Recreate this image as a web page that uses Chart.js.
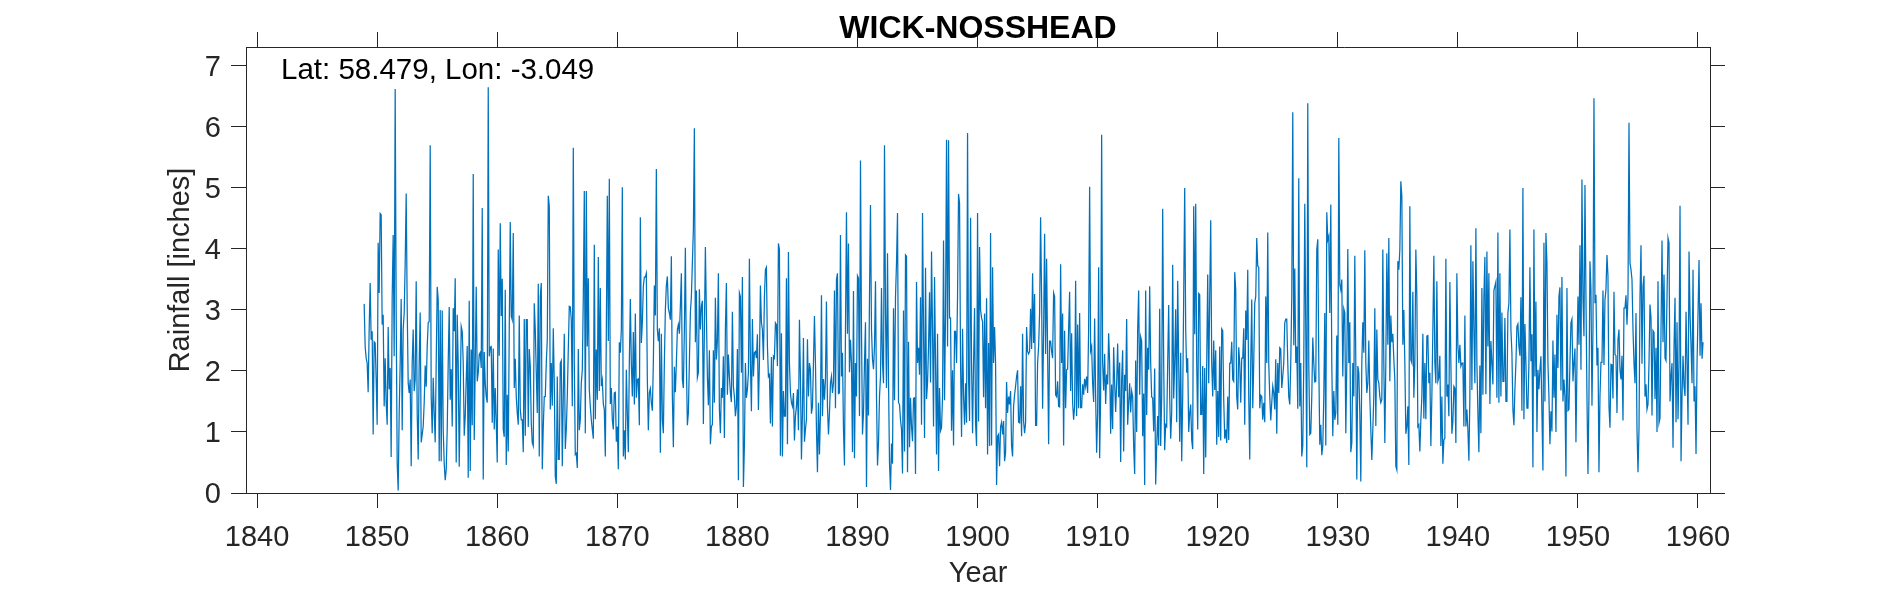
<!DOCTYPE html>
<html>
<head>
<meta charset="utf-8">
<title>WICK-NOSSHEAD</title>
<script src="https://cdn.jsdelivr.net/npm/chart.js@4/dist/chart.umd.min.js"></script>
<style>
html, body { margin: 0; padding: 0; background: #fff; }
#wrap { position: relative; width: 1890px; height: 591px; }
</style>
</head>
<body>
<div id="wrap"><canvas id="myChart"></canvas></div>
<script>
// monthly rainfall in inches
var rainPart1 = [3.10,2.40,2.21,2.13,1.65,2.68,3.44,2.51,2.65,0.96,2.48,2.46,1.86,1.12,4.10,3.28,4.58,4.56,2.76,2.92,1.42,2.21,1.48,1.12,2.72,1.70,2.05,0.59,3.20,4.23,2.24,6.62,3.00,0.49,0.04,1.31,2.13,3.18,1.03,2.68,2.95,3.77,4.91,3.05,1.80,1.64,1.86,0.44,2.13,2.68,1.67,1.86,3.47,1.31,0.55,2.13,2.96,0.83,0.96,1.09,1.48,2.09,1.74,2.40,2.79,2.81,5.70,1.58,0.98,1.89,1.31,0.83,2.13,3.38,3.17,0.52,3.00,0.52,2.99,1.04,0.49,0.21,0.38,1.04,2.13,3.05,1.53,2.03,1.09,3.03,2.65,3.52,0.50,2.92,2.13,0.43,1.58,2.73,2.65,2.13,0.94,1.26,1.86,2.41,0.25,3.15,0.36,2.35,1.11,5.23,0.87,2.08,3.38,1.83,1.97,2.27,2.30,2.05,4.67,0.22,2.31,1.80,1.58,1.48,6.65,2.24,2.39,2.40,1.15,2.37,1.04,1.72,1.15,0.50,3.99,2.25,4.42,2.90,3.51,1.04,0.92,3.33,0.46,1.61,0.68,2.68,4.44,2.90,2.84,4.26,1.72,2.20,1.58,1.31,1.12,2.91,1.37,1.20,1.20,0.67,2.85,0.94,2.84,2.84,1.08,2.36,2.08,1.15,0.82,0.77,3.11,2.68,1.97,1.31,3.43,0.60,3.22,3.44,0.39,1.09,1.58,1.58,2.13,2.51,4.87,4.70,1.37,2.13,1.43,2.70,1.80,0.27,0.15,1.91,0.55,0.55,2.13,2.17,0.44,1.58,2.61,0.72,1.04,1.58,2.35,3.06,3.05,2.84,1.42,5.66,2.13,0.63,0.65,0.41,2.36,1.03,1.20,1.80,2.02,3.22,4.95,0.98,4.95,2.40,3.52,1.70,1.42,1.20,1.04,0.89,4.07,1.21,2.35,1.53,3.87,1.67,3.36,1.75,1.85,1.46,1.37,0.60,2.60,4.87,2.49,5.15,1.46,1.72,1.20,1.04,1.64,1.65,0.84,1.09,0.39,2.47,2.30,2.68,5.01,0.60,1.03,0.55,2.02,1.31,0.67,2.13,3.18,2.13,1.58,2.64,1.45,2.94,1.56,1.86,1.87,1.11,4.52];
var rainPart2 = [2.46,2.79,3.39,3.54,3.54,3.60,1.86,1.03,1.64,1.71,1.48,1.35,2.13,3.40,2.91,5.31,2.68,2.49,2.70,0.66,2.61,1.20,0.98,2.13,3.00,3.40,3.55,3.03,2.95,2.84,3.88,1.58,0.75,2.07,1.65,2.13,2.68,2.76,2.61,3.06,3.60,1.86,1.72,2.68,4.02,2.13,1.11,1.31,2.13,2.95,3.22,3.77,4.32,5.98,2.47,3.32,1.89,1.97,3.34,2.68,3.06,3.15,1.13,2.68,4.03,2.95,1.91,1.44,2.34,0.80,1.09,1.12,2.34,1.48,3.20,2.19,2.49,3.60,1.37,0.98,1.72,1.56,2.24,0.90,2.68,3.44,1.61,2.27,1.91,1.64,1.49,2.97,1.75,1.58,1.26,1.42,2.36,0.21,3.28,3.22,1.97,3.54,0.10,0.77,2.13,1.56,1.70,1.97,3.84,2.13,1.34,2.85,1.91,2.30,2.32,2.21,2.60,1.36,2.13,3.40,2.79,2.68,2.18,3.22,3.66,3.70,2.40,1.91,1.94,1.14,2.23,1.09,2.24,2.21,2.79,2.76,2.08,4.09,3.99,0.61,2.62,0.60,1.67,1.26,1.26,3.52,0.80,3.95,2.13,1.64,1.48,1.42,1.64,0.86,1.26,1.42,1.70,1.03,2.84,1.91,0.55,1.31,2.54,0.84,1.04,1.20,2.52,1.58,2.13,2.02,1.30,1.42,2.13,2.90,2.13,1.04,0.34,1.48,0.63,1.31,3.24,1.26,1.87,1.53,1.86,3.14,1.42,0.96,1.31,1.80,1.91,1.64,1.80,3.32,1.39,3.50,3.60,1.63,1.64,4.23,1.91,2.30,1.04,0.45,2.68,4.60,2.61,4.09,1.98,2.51,2.13,0.67,3.31,0.57,2.13,1.58,3.56,3.52,1.26,5.45,2.68,0.96,1.31,2.13,2.80,0.10,2.20,1.27,3.22,4.72,2.68,2.19,2.03,2.40,3.47,1.58,0.45,0.82,1.58,1.90,3.36,2.13,1.80,5.70,2.95,1.72,3.93,1.86,0.49,0.05,0.81,0.48,3.03,1.52,3.22,3.77,4.59,1.48,1.45,1.20,1.04,0.32,2.99,0.68,3.90,3.88,0.34,2.48,0.75,1.56,1.09,0.85,1.55,1.56,0.31,3.46,2.13,2.38,1.94,3.21,1.12,4.59,2.68,0.90,3.69,1.54,1.80,2.40,3.29,1.81,3.96,2.68,1.09,3.54,2.13,0.63,2.61,0.36,1.72,1.02,1.07,1.58,4.14,1.52,2.95,5.79,2.40,5.78,2.87,2.87,1.02,2.01,0.78,2.65,2.65,2.13,3.22,4.90,4.75,2.13,0.92,2.69,1.58,1.12,1.80,1.15,5.90,1.88,1.18,4.51,2.13,0.98,2.13,3.03,1.15,0.77,4.59,1.17,4.03,3.00,2.87,2.81,1.57,2.94,1.39,3.19,0.63,2.46,0.77,4.26,0.78,3.70,2.13,2.72,2.13,0.13,0.93,0.96,0.44,1.09,1.16,0.96,1.18,0.52,0.66,1.82,1.31,1.58,1.45,1.67,0.77,0.60,1.42,1.61,1.75,1.91,2.01,1.16,1.15,1.75,0.93,2.61,1.18,0.98,1.15,2.72,2.32,2.28,2.32,3.02,2.36,3.60,2.46,3.26,1.11,1.11,2.13,2.40,2.95,4.52,3.22,1.38,2.68,4.25,2.28,3.84,2.30,0.80,2.49];
var rainPart3 = [2.49,2.32,2.21,3.28,3.22,1.61,1.58,1.83,1.42,1.41,3.75,2.13,2.94,0.78,2.66,1.39,2.02,2.03,2.68,3.30,1.67,2.62,1.48,1.20,1.42,3.48,1.26,2.76,1.39,2.95,1.40,1.40,1.78,1.61,1.87,1.75,1.91,1.64,2.68,5.02,2.33,2.40,1.80,1.49,2.86,1.58,0.66,1.31,3.70,0.57,1.58,5.87,2.13,1.68,2.28,1.46,1.94,1.78,2.62,2.13,0.97,1.78,1.05,2.39,1.80,1.33,1.80,2.45,1.57,2.14,0.51,1.86,2.34,0.68,1.94,1.67,2.85,1.12,1.48,1.80,1.32,1.67,1.58,0.77,0.31,2.17,1.00,2.68,3.32,1.61,2.56,2.49,0.93,1.63,0.13,3.32,1.28,2.38,2.02,3.39,2.13,1.57,1.56,1.01,2.04,0.14,0.77,1.26,0.78,3.02,0.77,1.58,4.66,2.13,0.70,1.12,1.09,2.13,3.08,1.58,0.89,1.31,3.74,1.55,2.13,3.01,1.16,3.48,2.13,0.84,2.30,0.52,1.58,3.22,5.00,2.68,1.97,2.21,1.00,1.31,1.45,0.87,0.72,4.70,2.60,4.74,2.13,1.04,3.27,3.25,1.29,1.29,2.08,0.31,2.05,0.58,2.13,3.58,1.80,3.22,4.47,2.13,1.58,2.50,1.69,2.34,0.79,1.67,0.92,2.40,0.86,2.69,2.66,1.53,0.89,1.04,0.82,1.58,0.87,2.13,2.13,2.48,1.86,1.83,3.62,3.33,1.58,1.37,2.39,2.13,1.48,2.21,2.21,2.70,1.12,2.99,2.51,3.66,1.58,0.55,2.13,3.17,1.39,2.13,3.11,3.22,4.18,3.72,3.70,1.39,1.60,1.58,1.20,1.48,1.16,3.22,2.13,4.27,2.13,1.58,1.19,1.48,1.75,1.64,1.37,2.19,0.97,2.13,1.64,2.38,2.36,1.72,1.91,2.13,2.79,2.85,2.85,2.13,1.58,1.45,2.13,3.22,6.24,2.42,3.68,2.13,2.40,1.38,5.16,1.42,2.13,0.60,0.77,2.13,4.74,2.68,0.42,6.39,2.13,0.96,0.98,1.58,2.55,2.13,1.82,1.83,3.99,4.16,2.13,0.79,1.12,0.62,0.77,1.58,2.95,0.78,4.60,4.15,4.21,2.95,4.73,2.13,0.93,1.67,1.20,1.31,2.58,1.12,5.82,3.42,3.33,3.50,1.91,3.02,2.95,0.98,2.13,4.00,2.13,2.80,0.67,0.82,2.13,1.58,3.89,2.13,0.22,2.08,1.97,1.31,0.19,2.13,2.80,2.30,3.98,2.13,1.64,1.80,2.50,1.58,1.04,0.54,1.04,1.58,3.03,1.10,2.68,1.86,1.80,1.58,1.48,1.53,3.99,2.13,0.82,2.13,3.93,2.43,4.18,1.83,2.91,2.47,2.61,2.19,1.86,0.44,0.38,3.80,3.66,3.99,5.11,4.86,2.43,3.00,2.13,0.97,1.09,1.42,0.46,4.70,2.18,2.13,3.30,1.56,2.13,3.99,3.22,1.09,1.12,0.68,1.20,1.58,2.61,1.22,2.13,1.21,2.57,2.58,1.80,1.97,0.77,1.58,2.68,3.89,2.13,1.80,3.47,1.83,1.89,2.25,0.77,1.58,0.48,0.87,0.90,3.84,1.58,1.78,1.26,3.46,2.13,0.97,1.17,1.75,1.72,0.82,3.60,2.43,2.13,2.43,2.08,2.13,2.13,1.09,2.91,1.09,1.37,1.04,0.53];
var rainPart4 = [1.58,4.06,1.69,3.80,2.68,1.80,4.34,2.13,1.31,0.67,2.09,0.98,3.36,1.61,3.22,3.87,1.62,3.96,2.40,3.60,1.46,2.49,2.13,1.78,3.32,3.39,3.46,1.56,4.27,1.48,3.60,1.58,2.96,1.83,1.83,2.87,1.50,1.50,2.95,3.11,4.32,2.68,2.30,1.37,1.11,1.70,2.13,2.73,2.77,2.40,2.25,3.21,1.35,5.00,1.21,2.77,2.13,1.39,1.39,2.13,3.70,2.16,2.60,0.42,4.32,1.91,3.14,1.00,2.02,1.70,2.02,2.24,1.31,0.37,4.10,1.50,4.26,3.77,2.13,1.58,0.80,1.34,1.01,2.50,1.56,2.27,1.00,2.92,2.05,3.22,3.37,1.68,3.54,1.50,1.86,1.58,0.27,3.36,1.35,1.37,2.13,2.79,2.85,1.83,2.13,2.37,0.83,2.13,3.22,2.43,4.06,2.02,5.14,3.22,2.57,5.05,3.22,1.58,0.31,1.58,3.80,3.33,1.43,2.68,6.47,3.11,3.25,2.09,2.38,0.34,1.58,2.14,2.14,3.32,2.10,3.17,3.33,3.90,3.55,1.42,1.07,2.11,2.10,1.55,3.30,2.27,2.25,1.31,2.51,2.68,2.02,1.86,2.25,1.19,3.03,3.03,3.24,2.76,3.22,6.07,3.77,3.66,3.50,2.68,2.13,1.80,2.95,1.04,0.34,1.04,3.22,4.06,2.12,3.39,3.56,1.58,1.78,1.37,1.45,2.13,3.09,2.87,1.27,2.66,2.63,1.54,2.38,1.00,3.47,1.15,1.23,2.68,4.14,2.47,3.58,2.21,2.17,3.22,4.18,4.10,1.50,1.91,2.13,0.74,2.40,3.20,1.16,2.80,1.21,2.13,4.71,0.52,1.58,2.25,1.75,1.59,2.97,2.13,1.12,3.96,2.95,2.40,1.80,3.66,1.50,1.75,0.64,2.13,2.95,3.82,2.25,3.11,2.20,2.47];

var startYear = 1848.92;
var yearTicks = [1840, 1850, 1860, 1870, 1880, 1890, 1900, 1910, 1920, 1930, 1940, 1950, 1960];
var rainTicks = [0, 1, 2, 3, 4, 5, 6, 7];

var rainfall = rainPart1.concat(rainPart2, rainPart3, rainPart4);
var points = rainfall.map(function (v, i) {
    return { x: startYear + i / 12, y: v };
});

const AXIS_COLOR = '#262626';
const FONT = '"Liberation Sans", Arial, sans-serif';

// title and the Lat/Lon note sit outside what the scales can place
const textPlugin = {
    id: 'textPlugin',
    afterDraw(chart) {
        const ctx = chart.ctx;
        const area = chart.chartArea;
        ctx.save();
        ctx.fillStyle = '#000';
        ctx.textBaseline = 'alphabetic';
        ctx.textAlign = 'center';
        ctx.font = 'bold 32px ' + FONT;
        ctx.fillText('WICK-NOSSHEAD', (area.left + area.right) / 2, 38);
        ctx.textAlign = 'left';
        ctx.font = '29.5px ' + FONT;
        ctx.fillText('Lat: 58.479, Lon: -3.049', 281, 79);
        ctx.restore();
    }
};

function sideGrid() {
    return { drawOnChartArea: false, drawTicks: true, tickLength: 15, color: AXIS_COLOR, lineWidth: 1 };
}
function sideBorder() {
    return { display: true, color: AXIS_COLOR, width: 1 };
}
function setYearTicks(scale) {
    scale.ticks = yearTicks.map(function (v) { return { value: v }; });
}
function setRainTicks(scale) {
    scale.ticks = rainTicks.map(function (v) { return { value: v }; });
}

var myChart = new Chart(document.getElementById('myChart').getContext('2d'), {
    type: 'line',
    data: {
        datasets: [{
            data: points,
            borderColor: '#0072BD',
            borderWidth: 1.25,
            tension: 0,
            pointRadius: 0,
            fill: false,
            xAxisID: 'x',
            yAxisID: 'y'
        }]
    },
    options: {
        responsive: true,
        maintainAspectRatio: false,
        animation: false,
        events: [],
        plugins: { legend: { display: false }, tooltip: { enabled: false } },
        layout: { padding: 0 },
        scales: {
            x: {
                type: 'linear',
                position: 'bottom',
                min: 1839.08,
                max: 1961,
                afterBuildTicks: setYearTicks,
                afterFit: function (s) { s.height = 98; },
                grid: sideGrid(),
                border: sideBorder(),
                ticks: {
                    autoSkip: false, maxRotation: 0, padding: 13,
                    color: AXIS_COLOR, font: { family: FONT, size: 29 },
                    callback: function (v) { return String(v); }
                },
                title: {
                    display: true, text: 'Year', color: AXIS_COLOR,
                    font: { family: FONT, size: 29 }, padding: { top: 0, bottom: 0 }
                }
            },
            xTop: {
                type: 'linear',
                position: 'top',
                min: 1839.08,
                max: 1961,
                afterBuildTicks: setYearTicks,
                afterFit: function (s) { s.height = 47; },
                grid: sideGrid(),
                border: sideBorder(),
                ticks: { display: false }
            },
            y: {
                position: 'left',
                min: 0,
                max: 7.31,
                afterBuildTicks: setRainTicks,
                afterFit: function (s) { s.width = 246; },
                grid: sideGrid(),
                border: sideBorder(),
                ticks: {
                    padding: 10, color: AXIS_COLOR,
                    // empty first line plus a tiny line height nudges the digits down onto the tick
                    font: { family: FONT, size: 29, lineHeight: 4 / 29 },
                    callback: function (v) { return ['', String(v)]; }
                },
                title: {
                    display: true, text: 'Rainfall [inches]', color: AXIS_COLOR,
                    font: { family: FONT, size: 29 }, padding: { top: 164, bottom: 0 }
                }
            },
            yRight: {
                position: 'right',
                min: 0,
                max: 7.31,
                afterBuildTicks: setRainTicks,
                afterFit: function (s) { s.width = 180; },
                grid: sideGrid(),
                border: sideBorder(),
                ticks: { display: false }
            }
        }
    },
    plugins: [textPlugin]
});
</script>
</body>
</html>
